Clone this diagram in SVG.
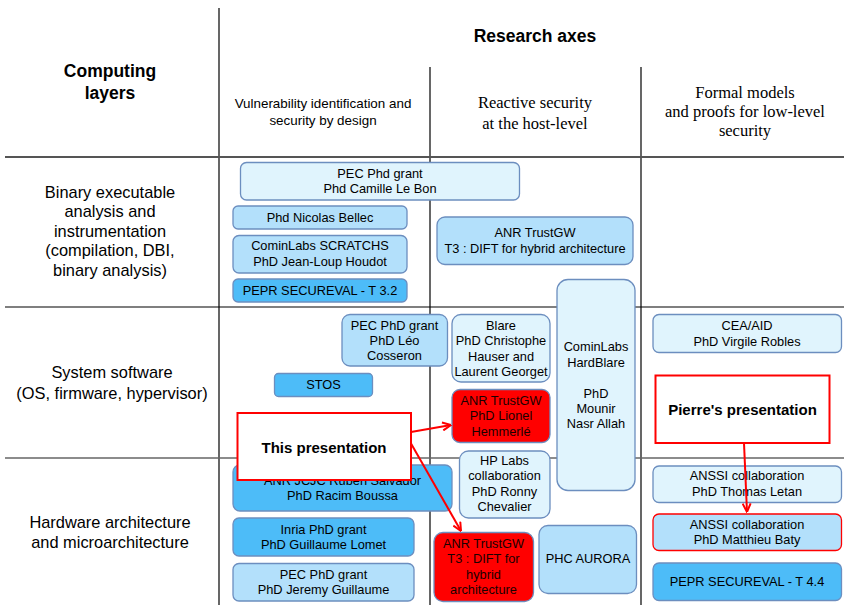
<svg xmlns="http://www.w3.org/2000/svg" width="844" height="605" viewBox="0 0 844 605">
  <style>
    .bg { fill: #ffffff; }
    .grid-v { stroke: #000000; stroke-width: 1.2; }
    .grid-h1 { stroke: #555555; stroke-width: 2; }
    .grid-h2 { stroke: #000000; stroke-width: 1.2; }
    .grid-h3 { stroke: #666666; stroke-width: 1.5; }
    .hdr { font-family: "Liberation Sans", Arial, sans-serif; font-weight: bold; font-size: 17.5px; fill: #000; text-anchor: middle; }
    .axis { font-family: "Liberation Sans", Arial, sans-serif; font-size: 13.4px; fill: #000; text-anchor: middle; }
    .axis-serif { font-family: "Liberation Serif", "Times New Roman", serif; font-size: 16.5px; fill: #000; text-anchor: middle; }
    .layer { font-family: "Liberation Sans", Arial, sans-serif; font-size: 16.4px; fill: #000; text-anchor: middle; }
    .n { stroke: #6c8ebf; stroke-width: 1.3; }
    .light { fill: #e0f4fd; }
    .mid { fill: #b3e0fb; }
    .strong { fill: #4dbcf8; }
    .red { fill: #ff0000; }
    .redline { stroke: #ff0000; stroke-width: 1.3; }
    .pres { fill: #ffffff; stroke: #ff0000; stroke-width: 2; }
    .t { font-family: "Liberation Sans", Arial, sans-serif; font-size: 12.8px; fill: #000; text-anchor: middle; }
    .tr { fill: #1a0000; }
    .tb { font-family: "Liberation Sans", Arial, sans-serif; font-size: 15px; font-weight: bold; fill: #000; text-anchor: middle; }
    .edge { stroke: #ff0000; stroke-width: 2; fill: none; }
  </style>
  <defs>
    <marker id="open-arrow" viewBox="0 0 10 10" refX="9.5" refY="5" markerWidth="10" markerHeight="10" markerUnits="userSpaceOnUse" orient="auto">
      <path d="M1,1 L9.5,5 L1,9" fill="none" stroke="#ff0000" stroke-width="2"/>
    </marker>
  </defs>

  <rect class="bg" x="0" y="0" width="844" height="605"/>

  <!-- table grid -->
  <g id="grid">
    <line class="grid-v" x1="219" y1="8" x2="219" y2="605"/>
    <line class="grid-v" x1="430" y1="67" x2="430" y2="605"/>
    <line class="grid-v" x1="641" y1="67" x2="641" y2="605"/>
    <line class="grid-h1" x1="5" y1="157" x2="844" y2="157"/>
    <line class="grid-h2" x1="5" y1="307" x2="844" y2="307"/>
    <line class="grid-h3" x1="5" y1="458" x2="844" y2="458"/>
  </g>

  <!-- headers -->
  <g id="headers">
    <text class="hdr" x="535" y="42">Research axes</text>
    <text class="hdr" x="110" y="77">Computing</text>
    <text class="hdr" x="110" y="99">layers</text>
    <text class="axis" x="323" y="108">Vulnerability identification and</text>
    <text class="axis" x="323" y="125">security by design</text>
    <text class="axis-serif" x="535" y="108">Reactive security</text>
    <text class="axis-serif" x="535" y="129">at the host-level</text>
    <text class="axis-serif" x="745" y="98">Formal models</text>
    <text class="axis-serif" x="745" y="117">and proofs for low-level</text>
    <text class="axis-serif" x="745" y="136">security</text>
  </g>

  <!-- computing layers -->
  <g id="layers">
    <text class="layer" x="110" y="197.5">Binary executable</text>
    <text class="layer" x="110" y="217">analysis and</text>
    <text class="layer" x="110" y="236.5">instrumentation</text>
    <text class="layer" x="110" y="256">(compilation, DBI,</text>
    <text class="layer" x="110" y="275.5">binary analysis)</text>
    <text class="layer" x="112" y="378">System software</text>
    <text class="layer" x="112" y="398.5">(OS, firmware, hypervisor)</text>
    <text class="layer" x="110" y="528">Hardware architecture</text>
    <text class="layer" x="110" y="548">and microarchitecture</text>
  </g>

  <!-- projects -->
  <g id="n-camille">
    <rect class="n light" x="240.5" y="162.5" width="279" height="37.5" rx="6"/>
    <text class="t" x="380" y="177.5">PEC Phd grant</text>
    <text class="t" x="380" y="192.5">Phd Camille Le Bon</text>
  </g>
  <g id="n-bellec">
    <rect class="n mid" x="233" y="206" width="174" height="23" rx="5"/>
    <text class="t" x="320" y="221.5">Phd Nicolas Bellec</text>
  </g>
  <g id="n-scratchs">
    <rect class="n mid" x="233" y="235.5" width="174" height="37.5" rx="6"/>
    <text class="t" x="320" y="250">CominLabs SCRATCHS</text>
    <text class="t" x="320" y="266">PhD Jean-Loup Houdot</text>
  </g>
  <g id="n-pepr32">
    <rect class="n strong" x="233" y="279" width="174" height="23" rx="5"/>
    <text class="t" x="320" y="295">PEPR SECUREVAL - T 3.2</text>
  </g>
  <g id="n-trustgw-bin">
    <rect class="n mid" x="437" y="217" width="196" height="47.5" rx="8"/>
    <text class="t" x="535" y="236.5">ANR TrustGW</text>
    <text class="t" x="535" y="252.5">T3 : DIFT for hybrid architecture</text>
  </g>
  <g id="n-hardblare">
    <rect class="n light" x="557" y="279.5" width="78" height="211" rx="11"/>
    <text class="t" x="596" y="351">CominLabs</text>
    <text class="t" x="596" y="366.5">HardBlare</text>
    <text class="t" x="596" y="397.5">PhD</text>
    <text class="t" x="596" y="412.5">Mounir</text>
    <text class="t" x="596" y="427.5">Nasr Allah</text>
  </g>
  <g id="n-leo">
    <rect class="n mid" x="342" y="314.5" width="105.5" height="51.5" rx="8"/>
    <text class="t" x="394.5" y="329.5">PEC PhD grant</text>
    <text class="t" x="394.5" y="344.5">PhD Léo</text>
    <text class="t" x="394.5" y="359.5">Cosseron</text>
  </g>
  <g id="n-blare">
    <rect class="n light" x="452" y="314.5" width="98" height="67.5" rx="9"/>
    <text class="t" x="501" y="330">Blare</text>
    <text class="t" x="501" y="345">PhD Christophe</text>
    <text class="t" x="501" y="360.5">Hauser and</text>
    <text class="t" x="501" y="375.5">Laurent Georget</text>
  </g>
  <g id="n-stos">
    <rect class="n strong" x="274.5" y="373.5" width="98" height="23" rx="4"/>
    <text class="t" x="323.5" y="389">STOS</text>
  </g>
  <g id="n-lionel">
    <rect class="n red" x="452" y="389.5" width="98" height="53" rx="8"/>
    <text class="t tr" x="501" y="404.5">ANR TrustGW</text>
    <text class="t tr" x="501" y="419.5">PhD Lionel</text>
    <text class="t tr" x="501" y="435.5">Hemmerlé</text>
  </g>
  <g id="n-hplabs">
    <rect class="n light" x="459.5" y="451" width="90.5" height="67" rx="9"/>
    <text class="t" x="504.5" y="465">HP Labs</text>
    <text class="t" x="504.5" y="480">collaboration</text>
    <text class="t" x="504.5" y="495.5">PhD Ronny</text>
    <text class="t" x="504.5" y="511">Chevalier</text>
  </g>
  <g id="n-jcjc">
    <rect class="n strong" x="233" y="465" width="219" height="46" rx="7"/>
    <text class="t" x="342.5" y="484.5">ANR JCJC Ruben Salvador</text>
    <text class="t" x="342.5" y="499.5">PhD Racim Boussa</text>
  </g>
  <g id="n-inria">
    <rect class="n strong" x="233" y="518" width="181" height="38" rx="6"/>
    <text class="t" x="323.5" y="533.5">Inria PhD grant</text>
    <text class="t" x="323.5" y="548.5">PhD Guillaume Lomet</text>
  </g>
  <g id="n-jeremy">
    <rect class="n mid" x="233" y="563.5" width="181" height="37.5" rx="6"/>
    <text class="t" x="323.5" y="578.5">PEC PhD grant</text>
    <text class="t" x="323.5" y="593.5">PhD Jeremy Guillaume</text>
  </g>
  <g id="n-trustgw-hw">
    <rect class="n red" x="434" y="532.5" width="99.5" height="69" rx="9"/>
    <text class="t tr" x="483.5" y="548">ANR TrustGW</text>
    <text class="t tr" x="483.5" y="563">T3 : DIFT for</text>
    <text class="t tr" x="483.5" y="579">hybrid</text>
    <text class="t tr" x="483.5" y="594">architecture</text>
  </g>
  <g id="n-aurora">
    <rect class="n mid" x="539" y="525.5" width="97.5" height="68" rx="9"/>
    <text class="t" x="588" y="563">PHC AURORA</text>
  </g>
  <g id="n-cea">
    <rect class="n light" x="653" y="314.5" width="188.5" height="38" rx="6"/>
    <text class="t" x="747" y="330">CEA/AID</text>
    <text class="t" x="747" y="346">PhD Virgile Robles</text>
  </g>
  <g id="n-letan">
    <rect class="n light" x="653" y="466" width="188.5" height="36.5" rx="6"/>
    <text class="t" x="747" y="480">ANSSI collaboration</text>
    <text class="t" x="747" y="496">PhD Thomas Letan</text>
  </g>
  <g id="n-baty">
    <rect class="mid redline" x="653" y="514" width="188.5" height="36.5" rx="6"/>
    <text class="t" x="747" y="528.5">ANSSI collaboration</text>
    <text class="t" x="747" y="543.5">PhD Matthieu Baty</text>
  </g>
  <g id="n-pepr44">
    <rect class="n strong" x="653" y="563" width="188.5" height="37.5" rx="6"/>
    <text class="t" x="747" y="585.5">PEPR SECUREVAL - T 4.4</text>
  </g>

  <!-- connectors -->
  <g id="connectors">
    <line class="edge" x1="411" y1="432" x2="451" y2="425" marker-end="url(#open-arrow)"/>
    <line class="edge" x1="409" y1="440" x2="461" y2="531" marker-end="url(#open-arrow)"/>
    <line class="edge" x1="744" y1="443" x2="747" y2="512" marker-end="url(#open-arrow)"/>
  </g>

  <!-- presentation callouts -->
  <g id="n-this-presentation">
    <rect class="pres" x="237.5" y="413" width="173.5" height="67"/>
    <text class="tb" x="324" y="453">This presentation</text>
  </g>
  <g id="n-pierre-presentation">
    <rect class="pres" x="655.5" y="375.5" width="174" height="67.5"/>
    <text class="tb" x="742.5" y="415">Pierre's presentation</text>
  </g>
</svg>
